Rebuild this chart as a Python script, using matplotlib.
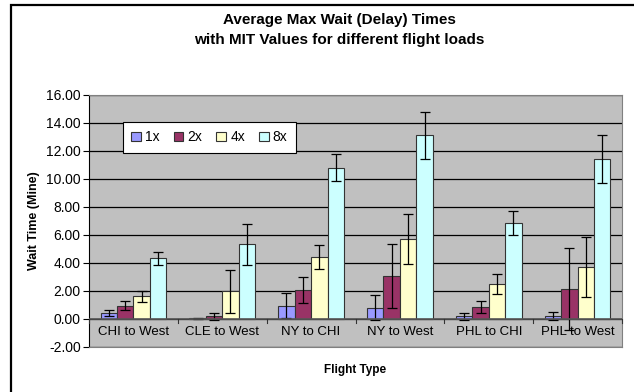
import numpy as np
import matplotlib
matplotlib.use("Agg")
import matplotlib.pyplot as plt
from matplotlib.patches import Rectangle

plt.rcParams['font.family'] = ['Liberation Sans', 'DejaVu Sans']

# data
categories = ["CHI to West", "CLE to West", "NY to CHI", "NY to West", "PHL to CHI", "PHL to West"]
series = ["1x", "2x", "4x", "8x"]
vals_1x = [0.43, 0.05, 0.95, 0.80, 0.19, 0.19]
vals_2x = [0.94, 0.19, 2.08, 3.08, 0.85, 2.15]
vals_4x = [1.63, 1.97, 4.43, 5.73, 2.48, 3.70]
vals_8x = [4.34, 5.33, 10.81, 13.14, 6.87, 11.40]
err_1x = [0.24, 0.03, 0.88, 0.88, 0.26, 0.28]
err_2x = [0.33, 0.26, 0.95, 2.31, 0.43, 2.94]
err_4x = [0.38, 1.55, 0.89, 1.80, 0.72, 2.13]
err_8x = [0.45, 1.48, 0.96, 1.68, 0.84, 1.71]
colors = ["#9999FF", "#993366", "#FFFFCC", "#CCFFFF"]
yticks = [-2, 0, 2, 4, 6, 8, 10, 12, 14, 16]

values = [vals_1x, vals_2x, vals_4x, vals_8x]
errors = [err_1x, err_2x, err_4x, err_8x]

fig = plt.figure(figsize=(6.34, 3.92), dpi=100)
# outer chart frame (cropped on the right and bottom like the original)
fig.patches.append(Rectangle((11/634, -0.05), 1.0, 1 - 5/392 + 0.05, transform=fig.transFigure,
                             fill=False, edgecolor="black", linewidth=1.6))

ax = fig.add_axes([89/634, 1 - 347/392, 533/634, 252/392])
ax.set_facecolor("#C0C0C0")

x = np.arange(len(categories))
w = 0.185
for i, s in enumerate(series):
    ax.bar(x + (i - 1.5) * w, values[i], w, color=colors[i], edgecolor="#333333",
           linewidth=0.8, label=s, zorder=3)
    ax.errorbar(x + (i - 1.5) * w, values[i], yerr=errors[i], fmt="none", ecolor="black",
                elinewidth=0.9, capsize=3.5, capthick=0.9, zorder=4)

ax.set_xlim(-0.5, len(categories) - 0.5)
ax.set_ylim(-2, 16)
ax.set_yticks(yticks)
ax.set_yticklabels(["%.2f" % t for t in yticks], fontsize=10)
ax.yaxis.grid(True, color="black", linewidth=0.9, zorder=0)
ax.set_axisbelow(True)
ax.tick_params(axis="y", direction="out", length=4, width=0.8, pad=2)

# category axis crossing at zero
ax.set_xticks([])
ax.axhline(0, color="#555555", linewidth=1.2, zorder=5)
for b in np.arange(len(categories) + 1) - 0.5:
    ax.plot([b, b], [0, -0.25], color="#333333", linewidth=0.8, zorder=5, clip_on=False)
for xi, c in zip(x, categories):
    ax.text(xi, -0.95, c, ha="center", va="center", fontsize=9.5)

for side in ["top", "right", "bottom"]:
    ax.spines[side].set_color("#808080")
ax.spines["left"].set_color("black")

ax.set_ylabel("Wait Time (Mine)", fontsize=9, fontweight="bold", labelpad=4)
fig.text(0.56, 1 - 370/392, "Flight Type", ha="center", va="center", fontsize=8.5, fontweight="bold")
fig.text(339/634, 1 - 20/392, "Average Max Wait (Delay) Times", ha="center", va="center",
         fontsize=11, fontweight="bold")
fig.text(339/634, 1 - 40/392, "with MIT Values for different flight loads", ha="center", va="center",
         fontsize=11, fontweight="bold")

leg = ax.legend(loc="upper left", bbox_to_anchor=(34/533, 1 - 27/252), ncol=4, fontsize=10,
                frameon=True, fancybox=False, framealpha=1, edgecolor="black",
                handlelength=0.7, handleheight=0.7, handletextpad=0.3, columnspacing=1.0,
                borderpad=0.6, borderaxespad=0)
leg.get_frame().set_linewidth(0.8)

fig.savefig("out.png", dpi=100)
